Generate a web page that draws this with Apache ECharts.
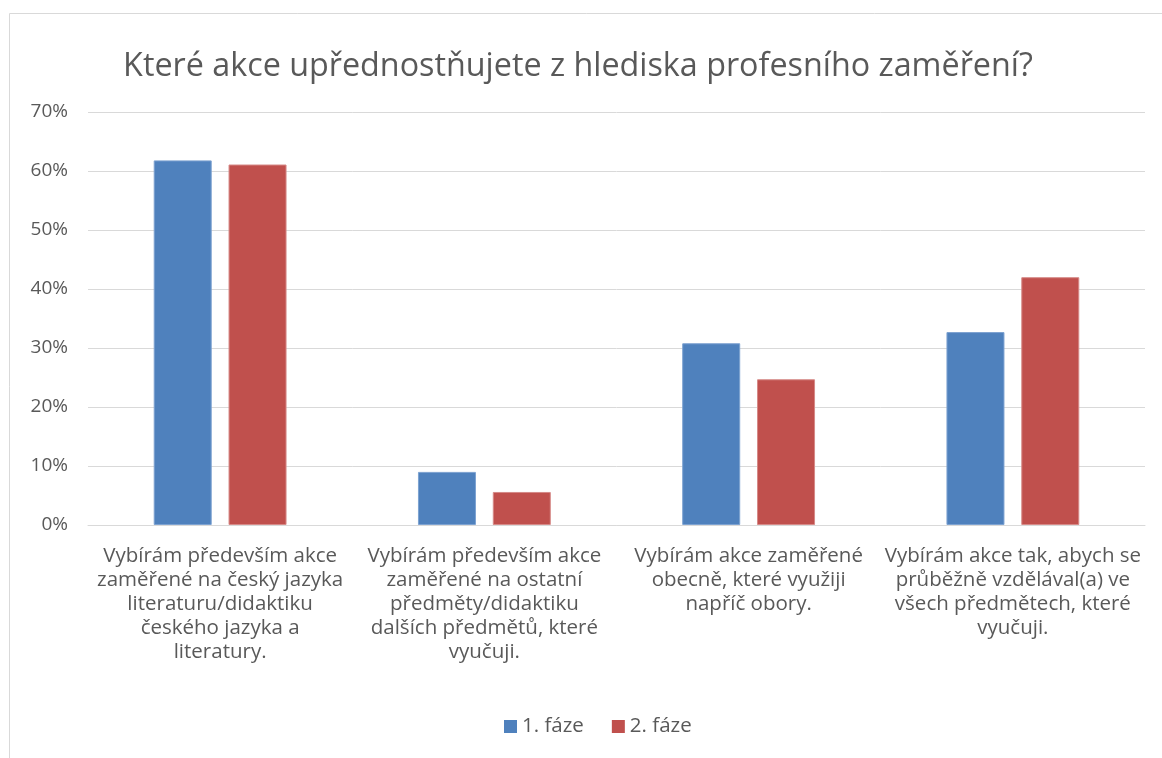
<!DOCTYPE html>
<html><head><meta charset="utf-8">
<script src="https://cdn.jsdelivr.net/npm/echarts@6/dist/echarts.min.js"></script>
<style>html,body{margin:0;padding:0;background:#fff;}#c{width:1162px;height:758px;}</style>
</head><body><div id="c"></div>
<script>
const titleText = 'Které akce upřednostňujete z hlediska profesního zaměření?';
const categories = [
  'Vybírám především akce\nzaměřené na český jazyka\nliteraturu/didaktiku\nčeského jazyka a\nliteratury.',
  'Vybírám především akce\nzaměřené na ostatní\npředměty/didaktiku\ndalších předmětů, které\nvyučuji.',
  'Vybírám akce zaměřené\nobecně, které využiji\nnapříč obory.',
  'Vybírám akce tak, abych se\nprůběžně vzdělával(a) ve\nvšech předmětech, které\nvyučuji.'
];
const seriesNames = ['1. fáze', '2. fáze'];
const phase1 = [61.8, 9.0, 30.8, 32.7];
const phase2 = [61.1, 5.6, 24.7, 42.0];
const yTicks = [0, 10, 20, 30, 40, 50, 60, 70];

const FONT = 'Open Sans';
const chart = echarts.init(document.getElementById('c'));
chart.setOption({
  animation: false,
  textStyle: { fontFamily: FONT },
  graphic: [{ type: 'rect', shape: { x: 9.5, y: 13.5, width: 1200, height: 800 }, style: { fill: 'none', stroke: '#d9d9d9', lineWidth: 1 }, silent: true }],
  title: { text: titleText, left: 573, textAlign: 'center', top: 46, textStyle: { fontFamily: FONT, fontSize: 32.3, fontWeight: 'normal', color: '#595959' } },
  legend: { bottom: 16, left: 499, itemWidth: 13, itemHeight: 13, itemGap: 28, itemStyle: { borderWidth: 0 }, icon: 'rect',
    textStyle: { fontFamily: FONT, fontSize: 20.5, color: '#595959' }, data: seriesNames },
  grid: { left: 88, right: 17, top: 112, bottom: 233, containLabel: false },
  xAxis: { type: 'category', data: categories,
    axisLine: { lineStyle: { color: '#d9d9d9' } }, axisTick: { show: false },
    axisLabel: { interval: 0, color: '#595959', fontFamily: FONT, fontSize: 20.5, lineHeight: 24, margin: 19 } },
  yAxis: { type: 'value', min: yTicks[0], max: yTicks[yTicks.length - 1], interval: 10,
    axisLine: { show: false }, axisTick: { show: false },
    splitLine: { lineStyle: { color: '#d9d9d9' } },
    axisLabel: { formatter: v => v + '%', color: '#595959', fontFamily: FONT, fontSize: 19, margin: 20 } },
  series: [
    { name: seriesNames[0], type: 'bar', data: phase1, barWidth: 58, barGap: '29%', itemStyle: { color: '#4f81bd', borderColor: '#7da2d1', borderWidth: 1 } },
    { name: seriesNames[1], type: 'bar', data: phase2, barWidth: 58, itemStyle: { color: '#c0504d', borderColor: '#d68a88', borderWidth: 1 } }
  ]
});
</script></body></html>
